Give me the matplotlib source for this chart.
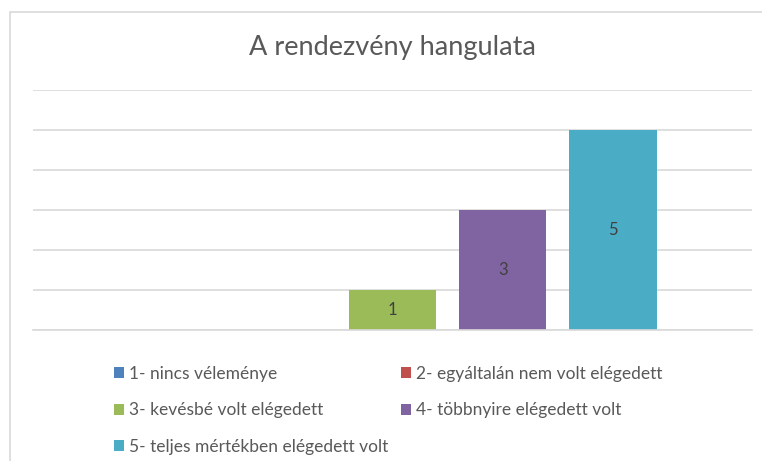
import matplotlib
matplotlib.use("Agg")
import matplotlib.pyplot as plt
from matplotlib.patches import Rectangle

plt.rcParams["font.family"] = ["Lato", "DejaVu Sans"]

series_labels = [
    "1- nincs véleménye",
    "2- egyáltalán nem volt elégedett",
    "3- kevésbé volt elégedett",
    "4- többnyire elégedett volt",
    "5- teljes mértékben elégedett volt",
]
values = [0, 0, 1, 3, 5]
colors = ["#4F81BD", "#C0504D", "#9BBB59", "#8064A2", "#4BACC6"]
y_ticks = [0, 1, 2, 3, 4, 5, 6]

W, H = 762, 461
fig = plt.figure(figsize=(W / 100, H / 100), dpi=100)

# chart area border (cropped on the right and bottom)
fig.patches.append(Rectangle((10 / W, -0.1), 1.2, (H - 12) / H + 0.1,
                             transform=fig.transFigure, fill=False,
                             edgecolor="#D9D9D9", linewidth=1.2))

ax = fig.add_axes([33 / W, (H - 330) / H, (752 - 33) / W, 240 / H])
positions = list(range(len(values)))
bars = []
for pos, val, col, lab in zip(positions, values, colors, series_labels):
    b = ax.bar(pos, val, width=0.79, color=col, label=lab, zorder=3)
    bars.append(b)
    if val:
        ax.text(pos, val / 2, str(val), ha="center", va="center",
                fontsize=12, color="#404040", zorder=4)

ax.set_xlim(-1.26, len(values) - 1 + 1.26)
ax.set_ylim(y_ticks[0], y_ticks[-1])
ax.set_yticks(y_ticks)
ax.grid(axis="y", color="#D9D9D9", linewidth=1.2, zorder=0)
ax.tick_params(left=False, bottom=False, labelleft=False, labelbottom=False)
for s in ["left", "right", "top"]:
    ax.spines[s].set_visible(False)
ax.spines["bottom"].set_color("#D9D9D9")
ax.spines["bottom"].set_linewidth(1.2)
ax.spines["bottom"].set_zorder(5)

fig.text(392 / W, 1 - 47 / H, "A rendezvény hangulata", ha="center",
         va="center", fontsize=19.5, color="#595959")

order = [0, 2, 4, 1, 3]
handles = [bars[i] for i in order]
labels = [series_labels[i] for i in order]
leg = fig.legend(handles, labels, ncol=2, loc="upper left",
                 bbox_to_anchor=(107 / W, 1 - 359 / H), frameon=False,
                 fontsize=12.5, labelcolor="#595959", handlelength=0.6,
                 handleheight=0.6, handletextpad=0.25, columnspacing=0.75,
                 labelspacing=1.18, borderaxespad=0)

fig.savefig("out.png", dpi=100)
